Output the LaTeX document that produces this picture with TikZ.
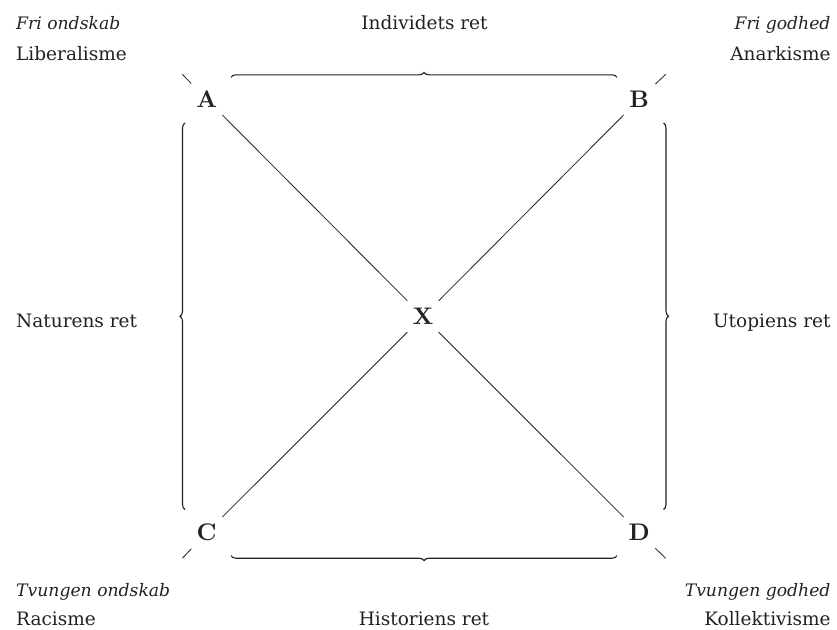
\documentclass[tikz,border=0pt]{standalone}
\usepackage{fontspec}
\newfontfamily\dv{DejaVu Serif}
\newfontfamily\lmbx{lmroman10-bold.otf}
\usetikzlibrary{decorations.pathreplacing}
\definecolor{ink}{HTML}{222222}
\begin{document}
\begin{tikzpicture}[x=1pt,y=-1pt,
  lbl/.style={font=\dv\fontsize{18.5}{22}\selectfont, text=ink, inner sep=0pt},
  ilbl/.style={font=\dv\itshape\fontsize{17.2}{22}\selectfont, text=ink, inner sep=0pt},
  corner/.style={circle, minimum size=44pt, inner sep=0pt, font=\lmbx\fontsize{24}{28}\selectfont, text=ink},
  diag/.style={draw=ink, line width=0.8pt},
  brc/.style={draw=ink, line width=1.1pt, decorate, decoration={brace, amplitude=5pt}}]
\useasboundingbox (0,0) rectangle (837,629);
% corner letters
\node[corner] (A) at (206.7,99.3) {A};
\node[corner] (B) at (639.3,99.3) {B};
\node[corner] (C) at (206.7,532.7) {C};
\node[corner] (D) at (639.3,532.7) {D};
\node[corner] (X) at (423,316.5) {X};
% outer ends of diagonals
\coordinate (a0) at (182.3,74.3);
\coordinate (b0) at (665.7,74.3);
\coordinate (c0) at (182.3,558.3);
\coordinate (d0) at (665.7,558.3);
\draw[diag] (a0) -- (A);
\draw[diag] (b0) -- (B);
\draw[diag] (c0) -- (C);
\draw[diag] (d0) -- (D);
\draw[diag] (A) -- (X);
\draw[diag] (X) -- (D);
\draw[diag] (B) -- (X);
\draw[diag] (X) -- (C);
% braces
\coordinate (t1) at (231,77.3);
\coordinate (t2) at (617,77.3);
\coordinate (b1) at (617,555.7);
\coordinate (b2) at (231,555.7);
\coordinate (l1) at (185,509.5);
\coordinate (l2) at (185,123);
\coordinate (r1) at (663.5,123);
\coordinate (r2) at (663.5,509.5);
\draw[brc] (t1) -- (t2);
\draw[brc] (b1) -- (b2);
\draw[brc] (l1) -- (l2);
\draw[brc] (r1) -- (r2);
% labels
\node[ilbl, anchor=base west] (fo) at (16,29.3) {Fri ondskab};
\node[lbl, anchor=base west] (lib) at (16,60) {Liberalisme};
\node[ilbl, anchor=base east] (fg) at (830.7,29.3) {Fri godhed};
\node[lbl, anchor=base east] (an) at (830.7,60) {Anarkisme};
\node[lbl, anchor=base] (ind) at (424.5,29.3) {Individets ret};
\node[lbl, anchor=base] (his) at (424,625.3) {Historiens ret};
\node[lbl, anchor=base west] (nat) at (16,327) {Naturens ret};
\node[lbl, anchor=base east] (uto) at (830.7,327) {Utopiens ret};
\node[ilbl, anchor=base west] (to) at (16,596.5) {Tvungen ondskab};
\node[lbl, anchor=base west] (rac) at (16,625.3) {Racisme};
\node[ilbl, anchor=base east] (tg) at (830.7,596.5) {Tvungen godhed};
\node[lbl, anchor=base east] (kol) at (830.7,625.3) {Kollektivisme};
\end{tikzpicture}
\end{document}
